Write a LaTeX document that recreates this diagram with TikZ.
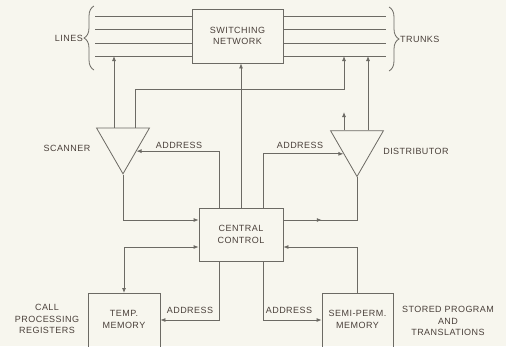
\documentclass[tikz,border=0pt]{standalone}
\usepackage{fontspec}
\setmainfont{Liberation Sans}[LetterSpace=5]
\usetikzlibrary{arrows.meta, shapes.geometric, decorations.pathreplacing, decorations.markings}
\definecolor{inkclr}{RGB}{74,64,58}
\definecolor{lineclr}{RGB}{108,106,100}
\definecolor{paperclr}{RGB}{247,246,238}

\begin{document}
\begin{tikzpicture}[x=1pt, y=-1pt,
      >={Latex[length=5pt, width=4pt]},
      every node/.style={text=inkclr, font=\fontsize{9}{11.5}\selectfont},
      unit/.style={rectangle, draw=lineclr, line width=0.8pt, align=center, inner sep=0pt},
      amp/.style={regular polygon, regular polygon sides=3, regular polygon rotate=180,
        minimum size=61pt, draw=lineclr, line width=0.8pt, inner sep=0pt},
      link/.style={draw=lineclr, line width=0.8pt},
      arrow/.style={link, ->},
      midarrow/.style={link, postaction={decorate}, decoration={markings, mark=at position 0.33 with {\arrow{>}}}},
      curly/.style={link, decorate, decoration={brace, amplitude=10pt}}]
    \fill[paperclr] (0,0) rectangle (506,346);
    \useasboundingbox (0,0) rectangle (506,346);
    % blocks
    \node[unit, minimum width=91pt, minimum height=54pt] (sw) at (237.5,36) {SWITCHING\\NETWORK};
    \node[unit, minimum width=84pt, minimum height=53pt] (cc) at (241,234.5) {CENTRAL\\CONTROL};
    \node[unit, minimum width=72pt, minimum height=62pt, text depth=10pt, anchor=north] (tmem) at (124,293) {TEMP.\\MEMORY};
    \node[unit, minimum width=71pt, minimum height=62pt, text depth=10pt, anchor=north] (smem) at (357.5,293) {SEMI-PERM.\\MEMORY};
    \node[amp] (scan) at (123,143.3) {};
    \node[amp] (dist) at (357,146) {};
    % labels
    \node[anchor=east, inner sep=1pt] (lines) at (84,38) {LINES};
    \node[anchor=west, inner sep=1pt] (trunks) at (399,39) {TRUNKS};
    \node (scanlbl) at (67,148) {SCANNER};
    \node (distlbl) at (416,151) {DISTRIBUTOR};
    \node[align=center] (calllbl) at (47,319) {CALL\\PROCESSING\\REGISTERS};
    \node[align=center] (storelbl) at (448,321) {STORED PROGRAM\\AND\\TRANSLATIONS};
    \node (adr1) at (179,145) {ADDRESS};
    \node (adr2) at (300,145) {ADDRESS};
    \node (adr3) at (190,310) {ADDRESS};
    \node (adr4) at (289,310) {ADDRESS};
    % line and trunk bundles
    \foreach \i/\y in {1/16, 2/29, 3/43, 4/56} {
      \coordinate (la\i) at (95,\y);
      \coordinate (ra\i) at (386,\y);
      \draw[link] (la\i) -- (sw.west |- la\i);
      \draw[link] (sw.east |- ra\i) -- (ra\i);
    }
    \draw[curly] (94,70) -- (94,6);
    \draw[curly] (389,7) -- (389,71);
    \coordinate (bend) at (344,89);
    \coordinate (dfree) at (344,112);
    \coordinate (abus) at (0,320);
    % connections
    \draw[arrow] ([xshift=-9pt]scan.north) -- ([xshift=-9pt]scan.north |- la4);
    \draw[arrow] ([xshift=12pt]scan.north) |- (bend) -- (bend |- ra4);
    \draw[arrow] (dist.north -| dfree) -- (dfree);
    \draw[arrow] ([xshift=11pt]dist.north) -- ([xshift=11pt]dist.north |- ra4);
    \draw[arrow] (cc.north) -- (sw.south -| cc.north);
    \draw[arrow] ([xshift=-22pt]cc.north) |- (scan.side 1);
    \draw[arrow] ([xshift=22pt]cc.north) |- (dist.side 3);
    \draw[arrow] (scan.corner 1) |- ([yshift=14.5pt]cc.west);
    \draw[midarrow] ([yshift=14.5pt]cc.east) -| (dist.corner 1);
    \draw[link, <->] ([yshift=-12.5pt]cc.west) -| (tmem.north);
    \draw[arrow] (smem.north) |- ([yshift=-12.5pt]cc.east);
    \draw[arrow] ([xshift=-22pt]cc.south) |- (tmem.east |- abus);
    \draw[arrow] ([xshift=22pt]cc.south) |- (smem.west |- abus);
  \end{tikzpicture}
\end{document}
